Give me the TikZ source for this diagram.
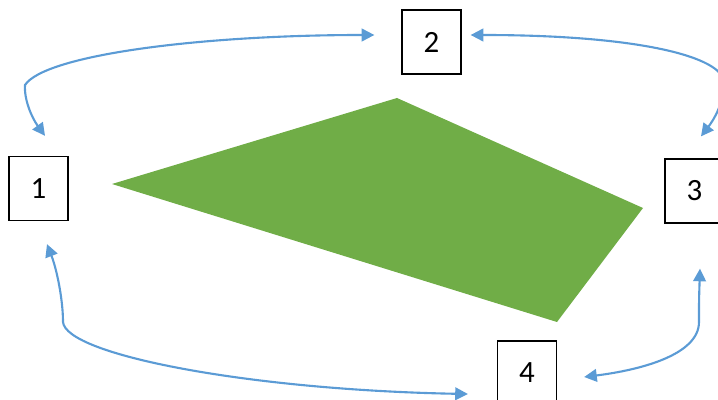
\documentclass[tikz,border=0pt]{standalone}
\usepackage{fontspec}
\setmainfont{Carlito}
\usepackage{tikz}
\usetikzlibrary{arrows.meta,calc}
\definecolor{linkblue}{HTML}{5B9BD5}
\definecolor{leaf}{HTML}{70AD47}

\begin{document}
\begin{tikzpicture}[x=0.025cm,y=-0.025cm,box/.style={draw=black,line width=0.9pt,fill=white,minimum width=1.475cm,minimum height=1.6cm,inner sep=0pt,font=\fontsize{22}{26}\selectfont},lnk/.style={{Triangle[length=9pt,width=9pt]}-{Triangle[length=9pt,width=9pt]},draw=linkblue,line width=1.5pt}]
\useasboundingbox (0,0) rectangle (718,400);
\clip (0,0) rectangle (718,400);
\fill[leaf] (112,184) -- (397,98) -- (643,208) -- (557,322) -- cycle;
\node[box] (b1) at (38.5,188.5) {1};
\node[box] (b2) at (431.5,42) {2};
\node[box] (b3) at (694.5,191) {3};
\node[box] (b4) at (527,373) {4};
\coordinate (e12a) at ($(b1.north)+(6.5,-20)$);
\coordinate (e12b) at ($(b2.west)+(-27,-7)$);
\coordinate (e23a) at ($(b2.east)+(9,-7)$);
\coordinate (e23b) at ($(b3.north)+(6.5,-22)$);
\coordinate (e34a) at ($(b3.south)+(5.5,45)$);
\coordinate (e34b) at ($(b4.east)+(27,4)$);
\coordinate (e14a) at ($(b1.south)+(8.5,23)$);
\coordinate (e14b) at ($(b4.west)+(-29,21)$);
\draw[lnk] (e12a) .. controls (32,118) and (24,100) .. (25,85) .. controls (45,55) and (200,35) .. (e12b);
\draw[lnk] (e23a) .. controls (640,35) and (722,57) .. (724,82) .. controls (724,105) and (712,122) .. (e23b);
\draw[lnk] (e34a) .. controls (699,300) .. (699,322) .. controls (699,355) and (640,370) .. (e34b);
\draw[lnk] (e14a) .. controls (57,270) and (63,300) .. (63,322) .. controls (66,355) and (250,390) .. (e14b);
\end{tikzpicture}
\end{document}
